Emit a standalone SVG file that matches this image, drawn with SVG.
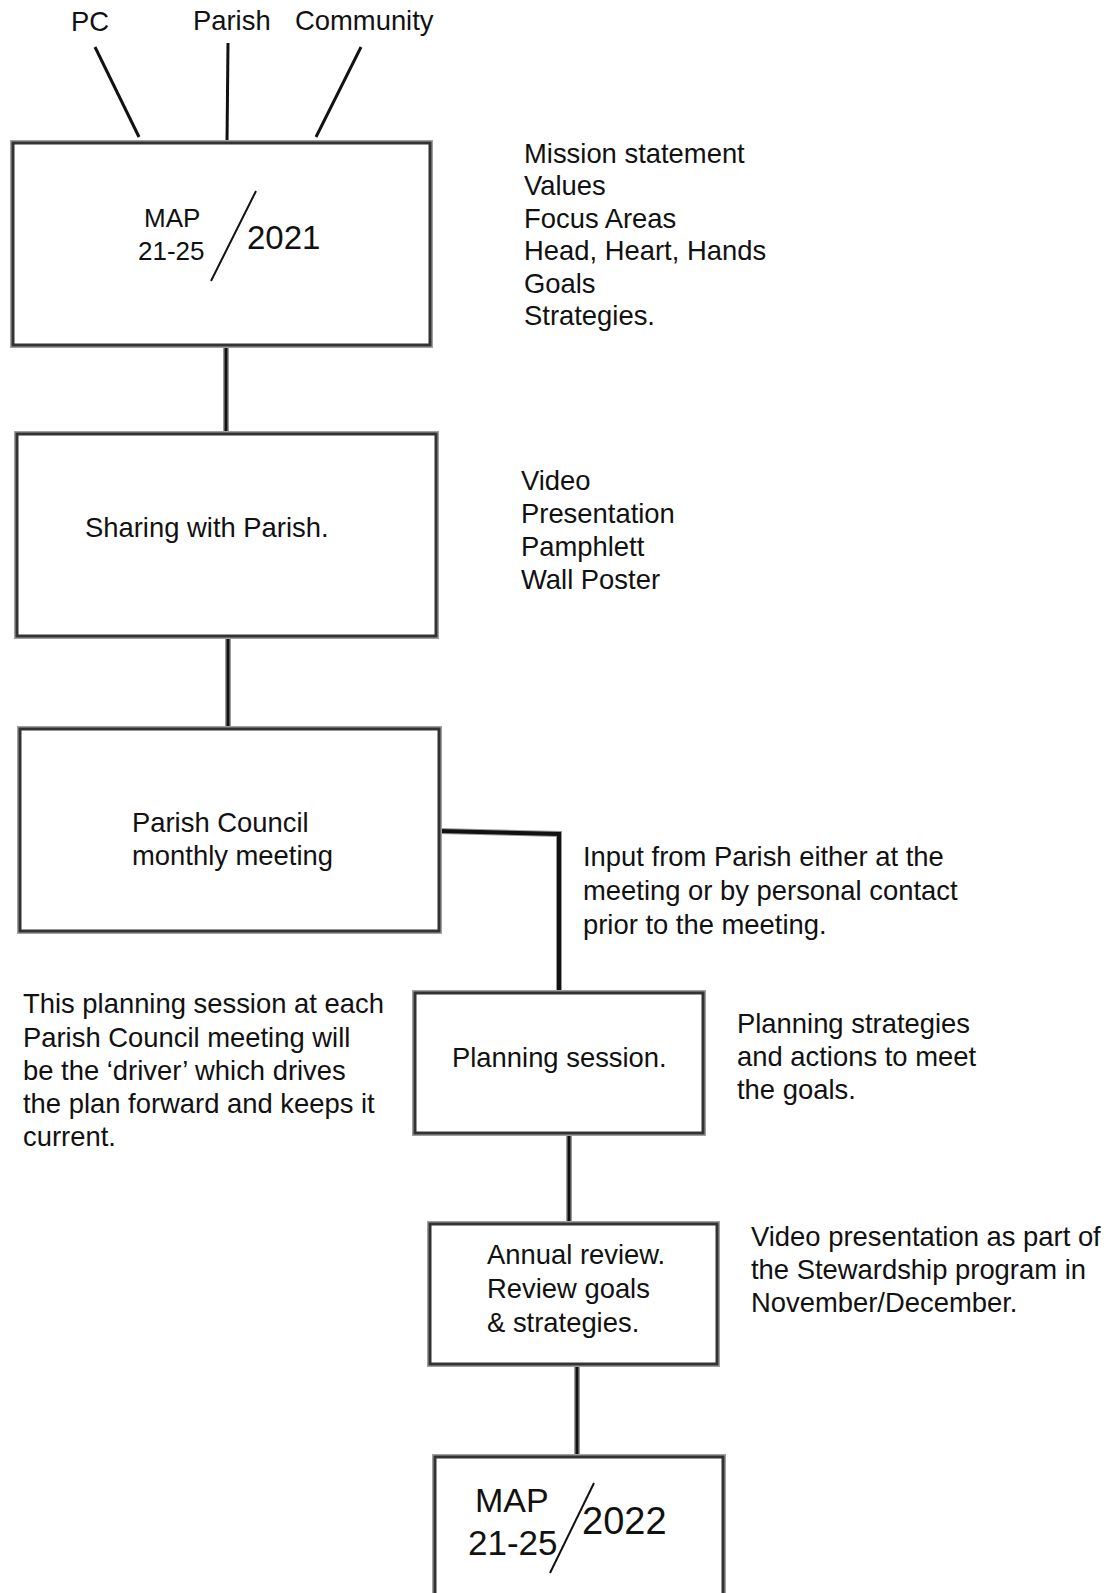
<svg xmlns="http://www.w3.org/2000/svg" width="1118" height="1593" viewBox="0 0 1118 1593">
<style>
.halo{fill:#fff;stroke:#a0a0a0;stroke-width:6}
.box{fill:#fff;stroke:#333;stroke-width:3}
.t{font-family:"Liberation Sans",Arial,sans-serif;font-size:27.4px;fill:#111}
.conn{fill:none;stroke:#111;stroke-width:3}
.connh{fill:none;stroke:#9a9a9a;stroke-width:6}
.slash{stroke:#111;stroke-width:2}
</style>
<rect width="1118" height="1593" fill="#fff"/>
<g id="connectors">
  <line class="conn" x1="95" y1="47" x2="139" y2="137" stroke-width="2.5"/>
  <line class="conn" x1="228" y1="43" x2="227" y2="143" stroke-width="2.5"/>
  <line class="conn" x1="361" y1="47" x2="316" y2="137" stroke-width="2.5"/>
  <line class="connh" x1="226" y1="345" x2="226" y2="434"/>
  <line class="conn" x1="226" y1="345" x2="226" y2="434"/>
  <line class="connh" x1="228" y1="636" x2="228" y2="729"/>
  <line class="conn" x1="228" y1="636" x2="228" y2="729"/>
  <polyline class="connh" points="439,831 559,834 559,993"/>
  <polyline class="conn" points="439,831 559,834 559,993" style="stroke-width:4"/>
  <line class="connh" x1="569" y1="1133" x2="569" y2="1224"/>
  <line class="conn" x1="569" y1="1133" x2="569" y2="1224"/>
  <line class="connh" x1="577" y1="1364" x2="577" y2="1457"/>
  <line class="conn" x1="577" y1="1364" x2="577" y2="1457"/>
</g>
<g id="label-pc"><text class="t" x="71" y="31">PC</text></g>
<g id="label-parish"><text class="t" x="193" y="30">Parish</text></g>
<g id="label-community"><text class="t" x="295" y="30">Community</text></g>
<g id="node-map2021">
  <rect class="halo" x="13" y="143" width="417" height="202"/>
  <rect class="box" x="13" y="143" width="417" height="202"/>
  <text class="t" x="144" y="227" style="font-size:26px">MAP</text>
  <text class="t" x="138" y="260" style="font-size:26px">21-25</text>
  <line class="slash" x1="256" y1="191" x2="211" y2="281"/>
  <text class="t" x="247" y="249" style="font-size:33px">2021</text>
</g>
<g id="note-mission">
  <text class="t" x="524" y="163">Mission statement</text>
  <text class="t" x="524" y="195">Values</text>
  <text class="t" x="524" y="228">Focus Areas</text>
  <text class="t" x="524" y="260">Head, Heart, Hands</text>
  <text class="t" x="524" y="293">Goals</text>
  <text class="t" x="524" y="325">Strategies.</text>
</g>
<g id="node-sharing">
  <rect class="halo" x="17" y="434" width="419" height="202"/>
  <rect class="box" x="17" y="434" width="419" height="202"/>
  <text class="t" x="85" y="537">Sharing with Parish.</text>
</g>
<g id="note-video">
  <text class="t" x="521" y="490">Video</text>
  <text class="t" x="521" y="523">Presentation</text>
  <text class="t" x="521" y="556">Pamphlett</text>
  <text class="t" x="521" y="589">Wall Poster</text>
</g>
<g id="node-council">
  <rect class="halo" x="20" y="729" width="419" height="202"/>
  <rect class="box" x="20" y="729" width="419" height="202"/>
  <text class="t" x="132" y="832">Parish Council</text>
  <text class="t" x="132" y="865">monthly meeting</text>
</g>
<g id="note-input">
  <text class="t" x="583" y="866">Input from Parish either at the</text>
  <text class="t" x="583" y="900">meeting or by personal contact</text>
  <text class="t" x="583" y="934">prior to the meeting.</text>
</g>
<g id="note-driver">
  <text class="t" x="23" y="1013">This planning session at each</text>
  <text class="t" x="23" y="1047">Parish Council meeting will</text>
  <text class="t" x="23" y="1080">be the ‘driver’ which drives</text>
  <text class="t" x="23" y="1113">the plan forward and keeps it</text>
  <text class="t" x="23" y="1146">current.</text>
</g>
<g id="node-planning">
  <rect class="halo" x="415" y="993" width="288" height="140"/>
  <rect class="box" x="415" y="993" width="288" height="140"/>
  <text class="t" x="452" y="1067">Planning session.</text>
</g>
<g id="note-strategies">
  <text class="t" x="737" y="1033">Planning strategies</text>
  <text class="t" x="737" y="1066">and actions to meet</text>
  <text class="t" x="737" y="1099">the goals.</text>
</g>
<g id="node-annual">
  <rect class="halo" x="430" y="1224" width="287" height="140"/>
  <rect class="box" x="430" y="1224" width="287" height="140"/>
  <text class="t" x="487" y="1264">Annual review.</text>
  <text class="t" x="487" y="1298">Review goals</text>
  <text class="t" x="487" y="1332">&amp; strategies.</text>
</g>
<g id="note-stewardship">
  <text class="t" x="751" y="1246">Video presentation as part of</text>
  <text class="t" x="751" y="1279">the Stewardship program in</text>
  <text class="t" x="751" y="1312">November/December.</text>
</g>
<g id="node-map2022">
  <path class="halo" d="M435,1600 V1457 H723 V1600"/>
  <path class="box" d="M435,1600 V1457 H723 V1600"/>
  <text class="t" x="475" y="1512" style="font-size:34px">MAP</text>
  <text class="t" x="468" y="1555" style="font-size:35px">21-25</text>
  <line class="slash" x1="594" y1="1483" x2="550" y2="1573"/>
  <text class="t" x="582" y="1534" style="font-size:38px">2022</text>
</g>
</svg>
